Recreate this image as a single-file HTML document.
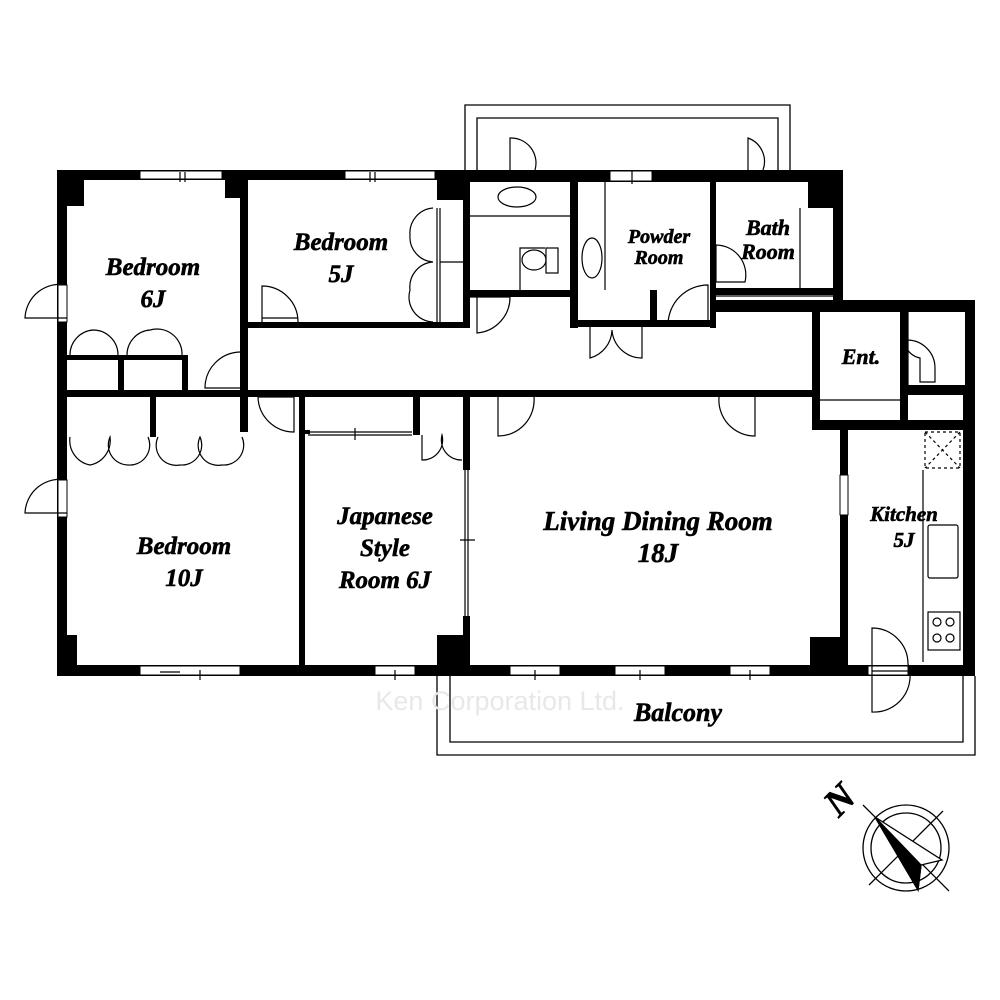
<!DOCTYPE html>
<html><head><meta charset="utf-8"><style>
html,body{margin:0;padding:0;background:#fff;}
svg{display:block}
.t{font-family:"Liberation Serif",serif;font-style:italic;font-weight:bold;fill:#000;stroke:#000;stroke-width:0.6;text-anchor:middle}
</style></head><body>
<svg width="1000" height="1000" viewBox="0 0 1000 1000" xmlns="http://www.w3.org/2000/svg">
<g fill="none" stroke="#000" stroke-width="1.3">
<path d="M465 170 V105 H790 V170 M477 170 V118 H778 V170"/>
<path d="M437 676 V755 H975 V676 M450 676 V742 H963 V676"/>
</g>
<g fill="#000">
<rect x="57" y="170" width="393" height="10"/>
<rect x="437" y="170" width="406" height="12"/>
<rect x="57" y="170" width="10" height="506"/>
<rect x="57" y="170" width="27" height="36"/>
<rect x="225" y="170" width="20" height="28"/>
<rect x="437" y="170" width="33" height="30"/>
<rect x="808" y="170" width="35" height="38"/>
<rect x="833" y="170" width="10" height="140"/>
<rect x="716" y="300" width="259" height="12"/>
<rect x="965" y="300" width="10" height="86"/>
<rect x="963" y="390" width="12" height="286"/>
<rect x="57" y="665" width="918" height="11"/>
<rect x="57" y="635" width="20" height="40"/>
<rect x="437" y="635" width="33" height="40"/>
<rect x="810" y="637" width="38" height="38"/>
<rect x="240" y="180" width="8" height="217"/>
<rect x="248" y="322" width="222" height="6"/>
<rect x="463" y="180" width="7" height="148"/>
<rect x="57" y="390" width="763" height="7"/>
<rect x="299" y="390" width="6" height="285"/>
<rect x="463" y="390" width="7" height="80"/>
<rect x="463" y="616" width="7" height="59"/>
<rect x="840" y="420" width="8" height="255"/>
<rect x="812" y="420" width="163" height="10"/>
<rect x="570" y="180" width="8" height="148"/>
<rect x="470" y="290" width="100" height="7"/>
<rect x="570" y="320" width="145" height="7"/>
<rect x="650" y="290" width="7" height="35"/>
<rect x="710" y="180" width="6" height="148"/>
<rect x="716" y="288" width="117" height="7"/>
<rect x="812" y="310" width="8" height="120"/>
<rect x="900" y="310" width="8" height="112"/>
<rect x="900" y="385" width="75" height="10"/>
<rect x="67" y="355" width="115" height="5"/>
<rect x="118" y="355" width="6" height="35"/>
<rect x="182" y="355" width="6" height="35"/>
<rect x="150" y="397" width="6" height="40"/>
<rect x="240" y="397" width="8" height="35"/>
<rect x="413" y="397" width="7" height="38"/>
<rect x="305" y="430" width="5" height="4"/>
</g>
<g fill="#fff" stroke="#000" stroke-width="1">
<rect x="140" y="171" width="82" height="8"/>
<rect x="345" y="171" width="90" height="8"/>
<rect x="610" y="171" width="42" height="10"/>
<rect x="140" y="666" width="100" height="9"/>
<rect x="375" y="666" width="40" height="9"/>
<rect x="510" y="666" width="50" height="9"/>
<rect x="615" y="666" width="50" height="9"/>
<rect x="730" y="666" width="40" height="9"/>
<rect x="58" y="285" width="9" height="37"/>
<rect x="58" y="480" width="9" height="37"/>
<rect x="840" y="475" width="8" height="40"/>
<rect x="868" y="666" width="40" height="9"/>
</g>
<g fill="none" stroke="#000" stroke-width="1.2">
<path d="M180 172 V182 M185 172 V182 M370 172 V182 M375 172 V182 M632 170 V184"/>
<path d="M160 672 H180 M200 670 V680 M395 670 V680 M535 670 V680 M640 670 V680 M750 670 V680"/>
<path d="M67 285 A35 35 0 0 0 25 318 H67 M67 480 A35 35 0 0 0 25 513 H67"/>
<path d="M262 322 V286 A36 36 0 0 1 298 322 M262 318 H298"/>
<path d="M240 352 A36 36 0 0 0 205 388 H240 M244 352 V390"/>
<path d="M258 397 H294 V432 A36 36 0 0 1 258 397"/>
<path d="M470 297 H510 A36 36 0 0 1 477 333 V297"/>
<path d="M520 296 V248 H545 M510 182 V138 A25 25 0 0 1 535 170"/>
<path d="M748 182 V138 A25 25 0 0 1 763 170"/>
<path d="M590 327 V358 A30 30 0 0 0 612 330 A30 30 0 0 0 642 358 V327"/>
<path d="M708 325 V285 A40 40 0 0 0 668 325"/>
<path d="M716 245 V282 H745 A30 30 0 0 0 716 245"/>
<path d="M498 397 V436 A36 36 0 0 0 534 397"/>
<path d="M755 397 V436 A36 36 0 0 1 719 397"/>
<path d="M908 340 A28 28 0 0 1 935 368 V382 H920 V358 A20 20 0 0 1 905 345"/>
<path d="M872 628 A36 36 0 0 1 908 664 A36 36 0 0 1 872 712 Z M872 671 H908"/>
<path d="M70 355 A25 25 0 0 1 93 330 A25 25 0 0 1 118 355 M127 355 A25 25 0 0 1 150 330 A25 25 0 0 1 182 355"/>
<path d="M70 437 A25 25 0 0 0 90 465 A25 25 0 0 0 110 437 A20 20 0 0 0 128 465 A20 20 0 0 0 148 437 M158 437 A20 20 0 0 0 180 465 A20 20 0 0 0 200 437 A20 20 0 0 0 222 465 A20 20 0 0 0 242 437"/>
<path d="M433 208 A25 25 0 0 0 410 235 A25 25 0 0 0 433 262 A25 25 0 0 0 410 290 A25 25 0 0 0 433 322 M437 208 V322 M440 208 V322 M440 262 H463"/>
<path d="M422 435 V460 A20 20 0 0 0 442 435 A20 20 0 0 0 462 460"/>
<path d="M308 432 H412 M308 435 H412 M355 428 V440 M465 470 V616 M468 470 V616 M460 540 H475"/>
<ellipse cx="517" cy="197" rx="19" ry="10"/>
<path d="M470 216 H570"/>
<ellipse cx="534" cy="260" rx="12" ry="10"/>
<rect x="546" y="248" width="12" height="25"/>
<ellipse cx="592" cy="258" rx="10" ry="20"/>
<path d="M605 182 V290 M800 208 V288 M816 312 V390 M820 400 H900 M908 310 V385"/>
<path d="M715 296 H833"/>
<rect x="925" y="432" width="35" height="36" stroke-dasharray="3 3"/>
<path d="M925 432 L960 468 M960 432 L925 468" stroke-dasharray="3 3"/>
<path d="M923 470 V662"/>
<rect x="928" y="525" width="30" height="53" rx="2"/>
<rect x="928" y="612" width="32" height="38"/>
<circle cx="937" cy="622" r="4"/><circle cx="950" cy="622" r="4"/>
<circle cx="937" cy="638" r="4"/><circle cx="950" cy="638" r="4"/>
</g>
<g class="t">
<text x="153" y="275" font-size="25">Bedroom</text>
<text x="153" y="307" font-size="25">6J</text>
<text x="341" y="250" font-size="25">Bedroom</text>
<text x="341" y="282" font-size="25">5J</text>
<text x="659" y="243" font-size="20">Powder</text>
<text x="659" y="264" font-size="20">Room</text>
<text x="768" y="235" font-size="22">Bath</text>
<text x="768" y="259" font-size="22">Room</text>
<text x="861" y="364" font-size="22">Ent.</text>
<text x="184" y="554" font-size="25">Bedroom</text>
<text x="184" y="586" font-size="25">10J</text>
<text x="385" y="524" font-size="25">Japanese</text>
<text x="385" y="556" font-size="25">Style</text>
<text x="385" y="588" font-size="25">Room 6J</text>
<text x="658" y="530" font-size="27">Living Dining Room</text>
<text x="658" y="562" font-size="27">18J</text>
<text x="904" y="521" font-size="21">Kitchen</text>
<text x="904" y="547" font-size="21">5J</text>
<text x="678" y="721" font-size="26">Balcony</text>
<text x="840" y="812" font-size="38" transform="rotate(-45 840 800)">N</text>
</g>
<text x="500" y="710" font-family="Liberation Sans,sans-serif" font-size="27" fill="#e8e8e8" text-anchor="middle">Ken Corporation Ltd.</text>
<g fill="none" stroke="#000" stroke-width="1.3">
<circle cx="906" cy="848" r="43"/>
<circle cx="906" cy="848" r="35"/>
<path d="M863 805 L949 891 M943 811 L869 885"/>
<path d="M875 817 L942 860 L921 865 L918 890 Z" fill="#fff"/>
<path d="M875 817 L921 865 L918 890 Z" fill="#000"/>
</g>
</svg>
</body></html>
